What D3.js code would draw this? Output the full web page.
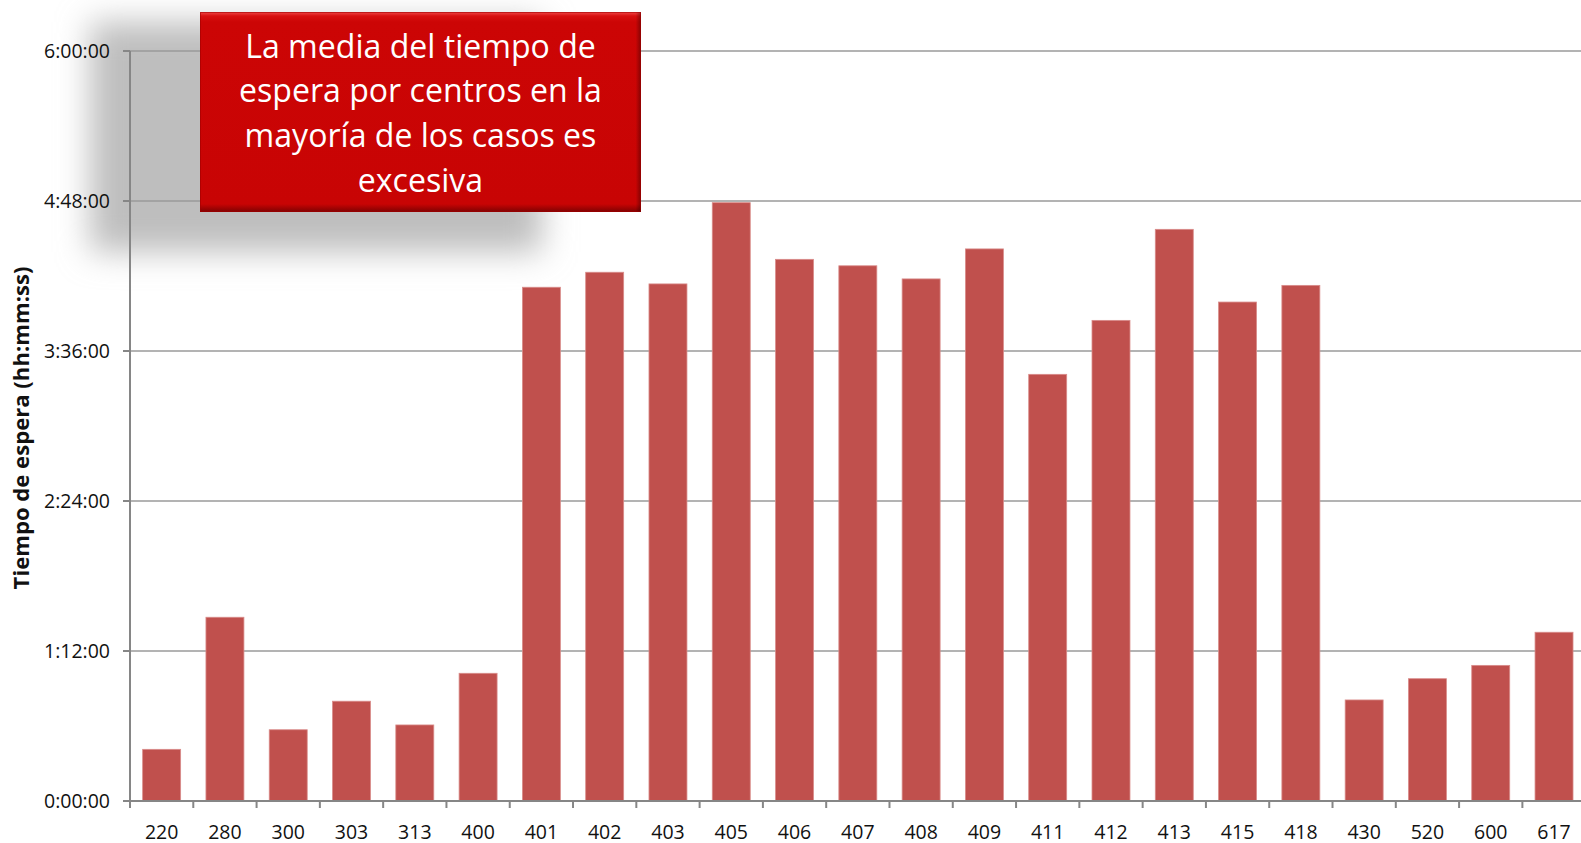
<!DOCTYPE html>
<html>
<head>
<meta charset="utf-8">
<script src="https://cdn.jsdelivr.net/npm/d3@7"></script>
<style>
  html, body { margin: 0; padding: 0; background: #fff; overflow: hidden; }
  svg { display: block; }
</style>
</head>
<body>
<svg id="chart" width="1581" height="843"></svg>
<script>
// ---- data ----
const categories = ["220","280","300","303","313","400","401","402","403","405","406","407","408","409","411","412","413","415","418","430","520","600","617"];
// mean waiting time in minutes
const waitMinutes = [24.8, 88.2, 34.2, 47.9, 36.5, 61.3, 246.6, 253.8, 248.2, 287.2, 260.0, 256.9, 250.6, 265.0, 204.8, 230.7, 274.4, 239.5, 247.5, 48.5, 58.7, 65.1, 81.0];
const yTicks = [0, 72, 144, 216, 288, 360];
const yTitle = "Tiempo de espera (hh:mm:ss)";
const calloutLines = ["La media del tiempo de", "espera por centros en la", "mayoría de los casos es", "excesiva"];

(function () {
const fmt = m => {
  const h = Math.floor(m / 60), mm = Math.round(m % 60);
  return h + ":" + String(mm).padStart(2, "0") + ":00";
};

const svg = d3.select("#chart");
const plotLeft = 130, plotBottom = 801, plotTop = 51;
const step = 63.29;
const x = d3.scaleBand().domain(categories)
  .range([plotLeft, plotLeft + step * categories.length])
  .paddingInner(0.4).paddingOuter(0.2);
const y = d3.scaleLinear().domain([0, 360]).range([plotBottom, plotTop]);

const defs = svg.append("defs");
const blur = defs.append("filter").attr("id", "blur")
  .attr("x", "-40%").attr("y", "-40%").attr("width", "180%").attr("height", "180%");
blur.append("feGaussianBlur").attr("stdDeviation", 16);

const grad = defs.append("linearGradient").attr("id", "boxGrad")
  .attr("x1", 0).attr("y1", 0).attr("x2", 0).attr("y2", 1);
grad.append("stop").attr("offset", "0%").attr("stop-color", "#f04848");
grad.append("stop").attr("offset", "2%").attr("stop-color", "#d81010");
grad.append("stop").attr("offset", "5%").attr("stop-color", "#cc0505");
grad.append("stop").attr("offset", "96%").attr("stop-color", "#c80404");
grad.append("stop").attr("offset", "100%").attr("stop-color", "#7e0202");

const gradR = defs.append("linearGradient").attr("id", "boxGradR")
  .attr("x1", 0).attr("y1", 0).attr("x2", 1).attr("y2", 0);
gradR.append("stop").attr("offset", "0%").attr("stop-color", "#000").attr("stop-opacity", 0);
gradR.append("stop").attr("offset", "98.8%").attr("stop-color", "#000").attr("stop-opacity", 0);
gradR.append("stop").attr("offset", "100%").attr("stop-color", "#000").attr("stop-opacity", 0.35);

// ---- callout shadow (behind everything) ----
svg.append("rect").attr("x", 90).attr("y", 22).attr("width", 452).attr("height", 230)
  .attr("fill", "#bebebe").attr("filter", "url(#blur)");

// ---- gridlines ----
svg.append("g").selectAll("line").data(yTicks.filter(t => t > 0)).join("line")
  .attr("x1", plotLeft).attr("x2", 1581)
  .attr("y1", d => y(d)).attr("y2", d => y(d))
  .attr("stroke", "#9a9a9a").attr("stroke-width", 1.5);

// ---- bars ----
svg.append("g").selectAll("rect").data(categories).join("rect")
  .attr("x", c => x(c))
  .attr("width", x.bandwidth())
  .attr("y", (c, i) => y(waitMinutes[i]))
  .attr("height", (c, i) => y(0) - y(waitMinutes[i]))
  .attr("fill", "#c0504d")
  .attr("stroke", "#d98c8a").attr("stroke-width", 0.8);

// ---- axes ----
const axisColor = "#868686";
svg.append("line").attr("x1", plotLeft).attr("x2", plotLeft).attr("y1", plotTop).attr("y2", plotBottom)
  .attr("stroke", axisColor).attr("stroke-width", 2);
svg.append("line").attr("x1", plotLeft).attr("x2", 1581).attr("y1", plotBottom).attr("y2", plotBottom)
  .attr("stroke", axisColor).attr("stroke-width", 2);

// y ticks
svg.append("g").selectAll("line").data(yTicks).join("line")
  .attr("x1", plotLeft - 7).attr("x2", plotLeft)
  .attr("y1", d => y(d)).attr("y2", d => y(d))
  .attr("stroke", axisColor).attr("stroke-width", 2);
svg.append("g").selectAll("text").data(yTicks).join("text")
  .attr("x", 110).attr("y", d => y(d)).attr("dy", "0.35em")
  .attr("text-anchor", "end")
  .attr("font-family", "'Open Sans', sans-serif").attr("font-size", 19.5)
  .attr("fill", "#111")
  .text(fmt);

// x ticks at category boundaries
const bounds = categories.map(c => x(c) - x.step() * x.paddingOuter());
svg.append("g").selectAll("line").data(bounds).join("line")
  .attr("x1", d => d).attr("x2", d => d)
  .attr("y1", plotBottom).attr("y2", plotBottom + 7)
  .attr("stroke", axisColor).attr("stroke-width", 2);
svg.append("g").selectAll("text").data(categories).join("text")
  .attr("x", c => x(c) + x.bandwidth() / 2).attr("y", 838.5)
  .attr("text-anchor", "middle")
  .attr("font-family", "'Open Sans', sans-serif").attr("font-size", 19.5)
  .attr("fill", "#111")
  .text(c => c);

// y title
const yt = svg.append("text")
  .attr("transform", "translate(28.5,428) rotate(-90)")
  .attr("text-anchor", "middle")
  .attr("font-family", "'Open Sans', sans-serif").attr("font-weight", "bold")
  .attr("font-size", 20).attr("fill", "#111")
  .text(yTitle);
const ytw = yt.node().getComputedTextLength();
yt.attr("font-size", 20 * 323 / ytw);

// ---- callout box ----
const bx = 200, by = 12, bw = 441, bh = 200;
svg.append("rect").attr("x", bx).attr("y", by).attr("width", bw).attr("height", bh)
  .attr("fill", "url(#boxGrad)");
svg.append("rect").attr("x", bx).attr("y", by).attr("width", bw).attr("height", bh)
  .attr("fill", "url(#boxGradR)");
svg.append("rect").attr("x", bx + 0.5).attr("y", by + 0.5).attr("width", bw - 1).attr("height", bh - 1)
  .attr("fill", "none").attr("stroke", "#a00000").attr("stroke-width", 1).attr("stroke-opacity", 0.6);

const ct = svg.append("g").selectAll("text").data(calloutLines).join("text")
  .attr("x", bx + bw / 2).attr("y", (d, i) => 57.5 + i * 44.7)
  .attr("text-anchor", "middle")
  .attr("font-family", "'Open Sans', sans-serif").attr("font-size", 28)
  .attr("fill", "#fff")
  .text(d => d);
const w2 = ct.nodes()[1].getComputedTextLength();
ct.attr("font-size", 28 * 363 / w2);
})();
</script>
</body>
</html>
